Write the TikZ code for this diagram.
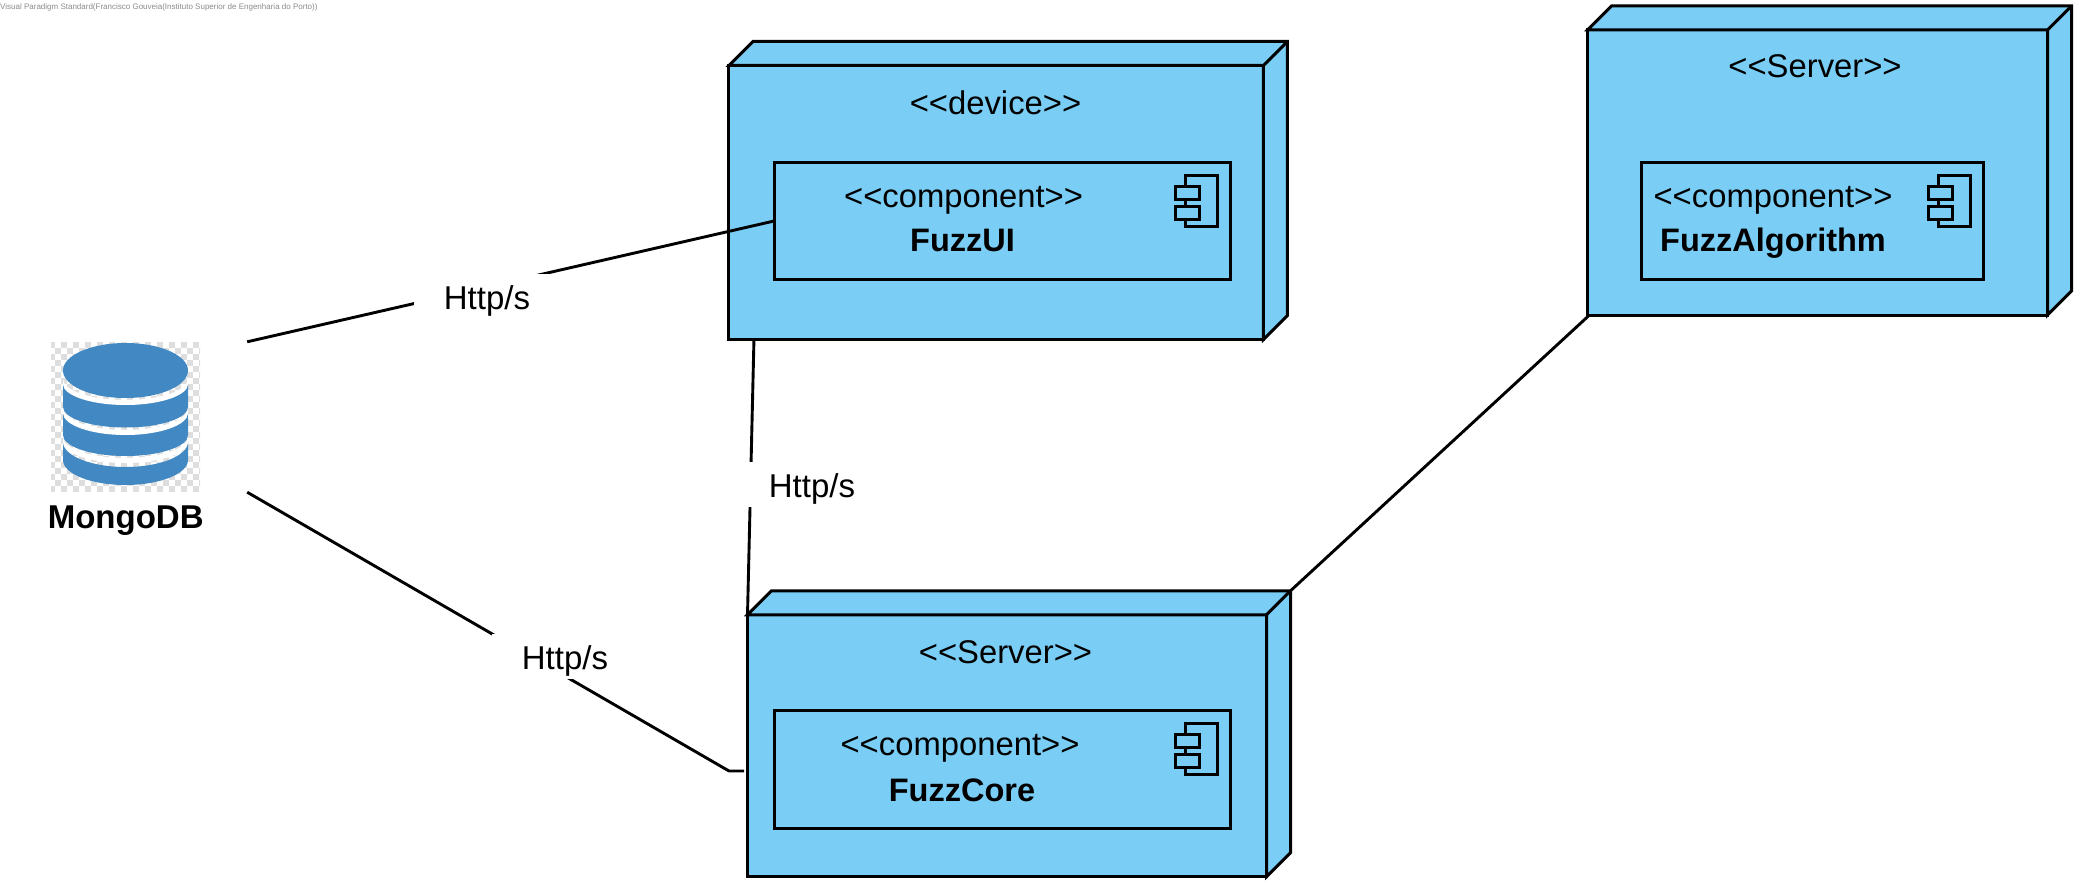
\documentclass[tikz,border=0pt]{standalone}
\usepackage{fontspec}
\setmainfont{Liberation Sans}
\usetikzlibrary{calc}
\definecolor{nodeblue}{HTML}{7ACEF5}
\definecolor{dbblue}{HTML}{4289C4}
\definecolor{checker}{HTML}{DEDEDE}
\definecolor{wmgray}{HTML}{8A8A8A}
\tikzset{
  x=1pt,y=-1pt,
  edge/.style={line width=2.9pt,line join=miter},
  solid3d/.style={draw=black,fill=nodeblue,line width=3pt,line join=miter},
  frontface/.style={solid3d,rectangle,inner sep=0pt,outer sep=0pt},
  compbox/.style={solid3d,rectangle,inner sep=0pt,outer sep=0pt,line width=2.9pt},
  icon/.style={draw=black,fill=nodeblue,line width=2.7pt},
  txt/.style={anchor=base,inner sep=0pt,font=\fontsize{32.8}{36}\selectfont},
  boldtxt/.style={anchor=base,inner sep=0pt,font=\fontsize{32.5}{36}\selectfont\bfseries},
  conlabel/.style={anchor=base,fill=white,inner sep=0pt,minimum width=146pt,text height=35pt,text depth=9.5pt,font=\fontsize{33}{36}\selectfont},
  dbfill/.style={fill=dbblue,draw=none},
  whitefill/.style={fill=white,draw=none}
}
% #1 name  #2 depth : the two visible side faces of a node
\newcommand{\sidefaces}[2]{%
  \draw[solid3d] (#1.north west) -- ++(#2,-#2) -- ($(#1.north east)+(#2,-#2)$) -- ($(#1.south east)+(#2,-#2)$) -- (#1.south east) -- (#1.north east) -- cycle;
  \draw[solid3d] (#1.north east) -- ++(#2,-#2);
}
% #1 component node : component icon at its upper right corner
\newcommand{\compicon}[1]{%
  \draw[icon] ($(#1.north east)+(-45,13)$) rectangle ($(#1.north east)+(-13,64)$);
  \draw[icon] ($(#1.north east)+(-55,24)$) rectangle ($(#1.north east)+(-31,37)$);
  \draw[icon] ($(#1.north east)+(-55,44)$) rectangle ($(#1.north east)+(-31,57)$);
}
% band between two lower half-ellipses of the database icon: #1 style, #2 top y, #3 bottom y, #4 bulge
\newcommand{\dbband}[4]{%
  \fill[#1] (63,#2) .. controls (63,{#2+.55*#4}) and (91,{#2+#4}) .. (125.5,{#2+#4})
     .. controls (160,{#2+#4}) and (188,{#2+.55*#4}) .. (188,#2)
     -- (188,#3) .. controls (188,{#3+.55*#4}) and (160,{#3+#4}) .. (125.5,{#3+#4})
     .. controls (91,{#3+#4}) and (63,{#3+.55*#4}) .. (63,#3) -- cycle;
}
\begin{document}
\begin{tikzpicture}
\useasboundingbox (0,0) rectangle (2085,891);

% watermark
\node[anchor=base west,inner sep=0pt,text=wmgray,font=\fontsize{8}{9}\selectfont] (wm) at (0,9.5) {Visual Paradigm Standard(Francisco Gouveia(Instituto Superior de Engenharia do Porto))};

% database icon
\begin{scope}
  \clip (51,342) rectangle (200,491);
  \fill[white] (51,342) rectangle (200,491);
  \foreach \i in {0,...,25}{\foreach \j in {0,...,25}{%
    \pgfmathtruncatemacro{\k}{mod(\i+\j,2)}%
    \ifnum\k=0 \fill[checker] ({49+6*\i},{342+6*\j}) rectangle ++(6,6);\fi}}
\end{scope}
\dbband{dbfill}{442}{460}{25}
\dbband{whitefill}{437}{442}{21}
\dbband{dbfill}{413}{435}{21}
\dbband{whitefill}{408}{413}{22}
\dbband{dbfill}{384}{407}{20.5}
\dbband{whitefill}{379}{384}{21}
\fill[dbfill] (125.5,370.5) ellipse [x radius=62.5,y radius=27.5];
\node[inner sep=0pt,minimum width=244pt,minimum height=150pt] (db) at (125,417) {};
\node[boldtxt,font=\fontsize{33}{36}\selectfont\bfseries] (dblabel) at (125.7,528.5) {MongoDB};

% device node
\node[frontface,minimum width=534.5pt,minimum height=274pt] (dev) at (996.2,202.5) {};
\sidefaces{dev}{24}
\node[txt] (devst) at (995.5,114) {<{}<device>{}>};
\node[compbox,minimum width=456pt,minimum height=117pt] (ui) at (1002.5,220.9) {};
\compicon{ui}
\node[txt] (uist) at (963.6,207) {<{}<component>{}>};
\node[boldtxt] (uiname) at (962.5,251.5) {FuzzUI};

% core server node
\node[frontface,minimum width=519pt,minimum height=262pt] (core) at (1007,745.8) {};
\sidefaces{core}{24}
\node[txt] (corest) at (1005.5,663) {<{}<Server>{}>};
\node[compbox,minimum width=456pt,minimum height=118pt] (corecomp) at (1002.5,769.8) {};
\compicon{corecomp}
\node[txt] (corecst) at (960,755) {<{}<component>{}>};
\node[boldtxt] (corename) at (962,801) {FuzzCore};

% algorithm server node
\node[frontface,minimum width=460pt,minimum height=285pt] (srv) at (1817.5,172.5) {};
\sidefaces{srv}{24}
\node[txt] (srvst) at (1815,77.5) {<{}<Server>{}>};
\node[compbox,minimum width=342pt,minimum height=117pt] (algo) at (1812.5,220.7) {};
\compicon{algo}
\node[txt] (algost) at (1773,207) {<{}<component>{}>};
\node[boldtxt] (algoname) at (1773,251.5) {FuzzAlgorithm};

% connectors
\coordinate (bend) at (729,771);
\coordinate (coreport) at (744,771);
\draw[edge] (db.north east) -- (ui.west);
\draw[edge] (db.south east) -- (bend) -- (coreport);
\draw[edge] ([xshift=25pt]dev.south west) -- (core.north west);
\draw[edge] ($(core.north east)+(24,-24)$) -- ([xshift=2pt]srv.south west);

% connector labels
\node[conlabel] (l1) at (487,309) {Http/s};
\node[conlabel] (l2) at (812,497) {Http/s};
\node[conlabel] (l3) at (565,669) {Http/s};
\end{tikzpicture}
\end{document}
